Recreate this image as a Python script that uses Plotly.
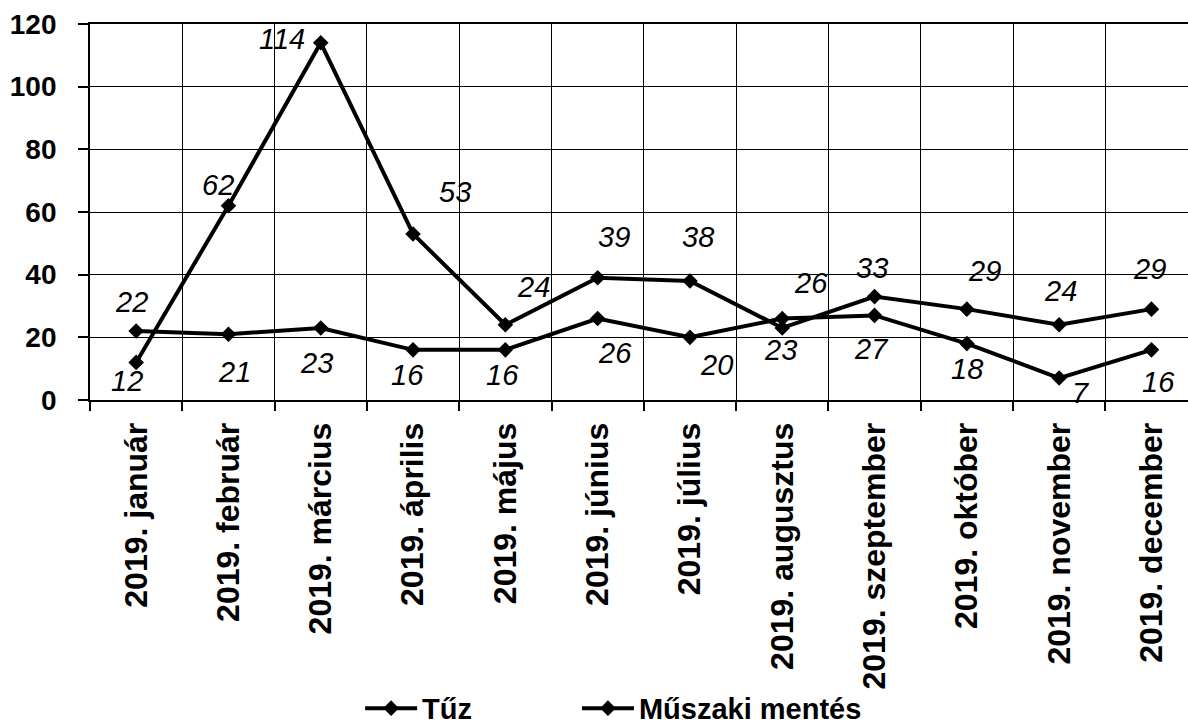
import plotly.graph_objects as go

months = ["2019. január", "2019. február", "2019. március", "2019. április",
          "2019. május", "2019. június", "2019. július", "2019. augusztus",
          "2019. szeptember", "2019. október", "2019. november", "2019. december"]
tuz = [12, 62, 114, 53, 24, 39, 38, 23, 33, 29, 24, 29]
muszaki = [22, 21, 23, 16, 16, 26, 20, 26, 27, 18, 7, 16]
y_ticks = [0, 20, 40, 60, 80, 100, 120]

# label offsets in pixels (dx, dy) relative to each point
tuz_off = [(-9, -19), (-10, 21), (-39, 4), (42, 42), (28, 38), (16, 41), (8, 44),
           (-2, -22), (-3, 29), (18, 38), (1, 34), (-2, 40)]
musz_off = [(-5, 29), (6, -38), (-4, -35), (-6, -25), (-3, -25), (17, -34), (27, -28),
            (29, 36), (-3, -34), (0, -25), (22, -15), (7, -32)]

FONT = "Liberation Sans, Arial, sans-serif"

fig = go.Figure()
fig.add_trace(go.Scatter(
    x=months, y=tuz, name="Tűz", mode="lines+markers",
    line=dict(color="black", width=4),
    marker=dict(symbol="diamond", size=12, color="black"),
    legend="legend",
))
fig.add_trace(go.Scatter(
    x=months, y=muszaki, name="Műszaki mentés", mode="lines+markers",
    line=dict(color="black", width=4),
    marker=dict(symbol="diamond", size=12, color="black"),
    legend="legend2",
))

for series, offs in ((tuz, tuz_off), (muszaki, musz_off)):
    for m, v, (dx, dy) in zip(months, series, offs):
        fig.add_annotation(
            x=m, y=v, text=str(v), showarrow=False,
            xshift=dx, yshift=dy,
            font=dict(family=FONT, size=29, color="black", style="italic"),
        )

leg_common = dict(
    orientation="h", xanchor="left", yanchor="middle", y=-0.82,
    font=dict(family=FONT, size=29, color="black", weight="bold"),
    bgcolor="rgba(0,0,0,0)", itemwidth=52,
)

fig.update_layout(
    width=1188, height=726,
    margin=dict(l=90, r=0, t=24, b=326, autoexpand=False),
    paper_bgcolor="white", plot_bgcolor="white",
    showlegend=True,
    legend=dict(x=0.246, **leg_common),
    legend2=dict(x=0.4435, **leg_common),
)
fig.update_xaxes(
    type="category", range=[-0.5, 11.396],
    tickson="boundaries", ticks="outside", ticklen=9, tickwidth=1.5, tickcolor="black",
    showgrid=True, gridcolor="black", gridwidth=1.3,
    showline=True, linecolor="black", linewidth=1.8, mirror=True,
    tickangle=-90,
    tickfont=dict(family=FONT, size=32, color="black", weight="bold"),
    ticklabelstandoff=8,
)
fig.update_yaxes(
    range=[0, 120], tickvals=y_ticks,
    ticks="outside", ticklen=10, tickwidth=1.5, tickcolor="black",
    showgrid=True, gridcolor="black", gridwidth=1.3,
    showline=True, linecolor="black", linewidth=1.8,
    zeroline=False,
    tickfont=dict(family=FONT, size=28, color="black", weight="bold"),
    ticklabelstandoff=16,
)

fig.write_html("out.html", config={"displayModeBar": False},
               post_script="document.body.style.margin='0';")
